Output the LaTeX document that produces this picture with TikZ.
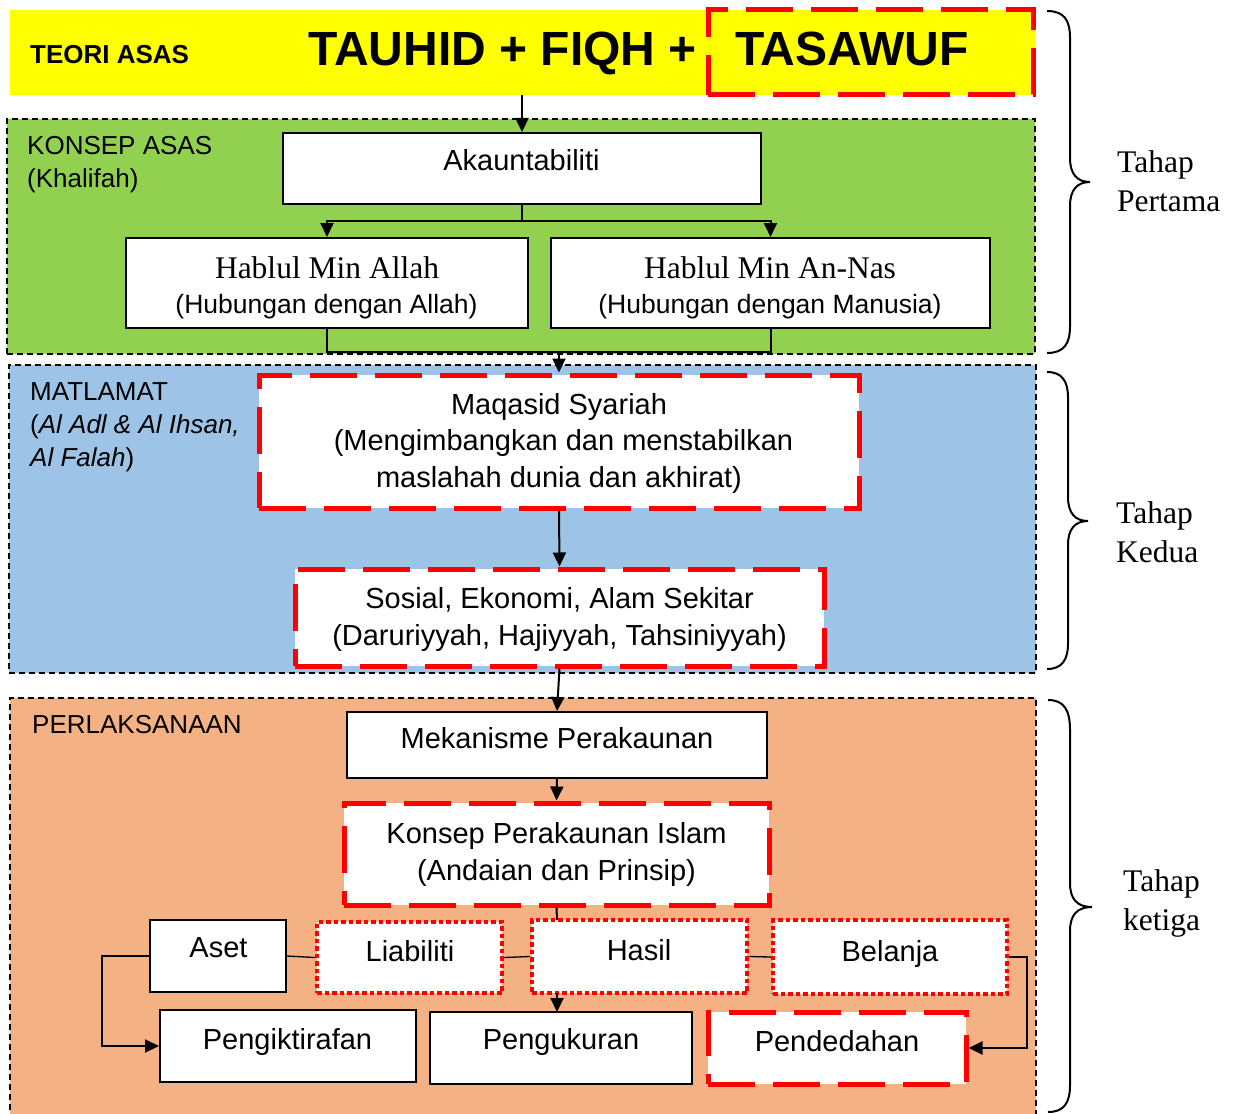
\documentclass[tikz,border=0pt]{standalone}
\usepackage{fontspec}
\setmainfont{Liberation Serif}
\setsansfont{Liberation Sans}
\newfontfamily\arialf{Liberation Sans}
\newfontfamily\tnrf{Liberation Serif}
\usetikzlibrary{arrows.meta}
\definecolor{ygold}{HTML}{FFFF00}
\definecolor{ggreen}{HTML}{92D050}
\definecolor{bblue}{HTML}{9DC3E6}
\definecolor{oorange}{HTML}{F4B183}
\definecolor{rred}{HTML}{FF0000}
\tikzset{
  lbl/.style={font=\arialf\fontsize{26}{31}\selectfont, inner sep=0pt},
  txt/.style={font=\arialf\fontsize{29}{35}\selectfont, inner sep=0pt},
  sub/.style={font=\arialf\fontsize{26.5}{31}\selectfont, inner sep=0pt},
  serif/.style={font=\tnrf\fontsize{31.5}{37}\selectfont, inner sep=0pt},
  container/.style={draw=black, line width=1.5pt, dash pattern=on 6pt off 4pt, inner sep=0pt},
  wbox/.style={draw=black, fill=white, line width=2pt, inner sep=0pt},
  rdash/.style={draw=rred, fill=white, line width=5pt, dash pattern=on 47pt off 18pt, inner sep=0pt},
  rdot/.style={draw=rred, fill=white, line width=4.5pt, dash pattern=on 4.5pt off 3pt, inner sep=0pt},
  conn/.style={line width=2pt, draw=black},
  thin/.style={line width=1.3pt, draw=black},
  arr/.style={conn, -{Triangle[length=14pt,width=13pt]}},
  bracepath/.style={line width=2pt, draw=black},
}
\begin{document}
\begin{tikzpicture}[x=1pt,y=-1pt]
\useasboundingbox (0,0) rectangle (1233,1113);
\fill[white] (0,0) rectangle (1233,1113);

% ---------- Teori Asas ----------
\node[fill=ygold, minimum width=1025pt, minimum height=85pt, inner sep=0pt] (teori) at (522.5,52.5) {};
\node[draw=rred, line width=5pt, dash pattern=on 47pt off 18pt, minimum width=325pt, minimum height=85pt, inner sep=0pt] (taswf) at (870.5,52.5) {};
\node[anchor=base west, font=\arialf\bfseries\fontsize{26}{31}\selectfont, inner sep=0pt] (tteori) at (30,64) {TEORI ASAS};
\node[anchor=base, font=\arialf\bfseries\fontsize{48}{56}\selectfont, inner sep=0pt] (ttfq) at (502.5,66) {TAUHID + FIQH +};
\node[anchor=base, font=\arialf\bfseries\fontsize{48}{56}\selectfont, inner sep=0pt] (ttas) at (852,66) {TASAWUF};

% ---------- Konsep Asas ----------
\node[container, fill=ggreen, minimum width=1028pt, minimum height=235pt] (kons) at (521,236.5) {};
\node[lbl, anchor=base west] (tkons1) at (27,154) {KONSEP ASAS};
\node[lbl, anchor=base west] (tkons2) at (27,187) {(Khalifah)};
\node[wbox, minimum width=478pt, minimum height=71pt] (akun) at (522,168.5) {};
\node[txt, anchor=base] (takun) at (521.5,170) {Akauntabiliti};
\node[wbox, minimum width=402pt, minimum height=90pt] (hma) at (327,283) {};
\node[wbox, minimum width=439pt, minimum height=90pt] (hmn) at (770.5,283) {};
\node[serif, anchor=base] (thma1) at (327,278) {Hablul Min Allah};
\node[sub, anchor=base] (thma2) at (326.5,313) {(Hubungan dengan Allah)};
\node[serif, anchor=base] (thmn1) at (770,278) {Hablul Min An-Nas};
\node[sub, anchor=base] (thmn2) at (770,313) {(Hubungan dengan Manusia)};

% ---------- Matlamat ----------
\node[container, fill=bblue, minimum width=1027pt, minimum height=308pt] (matl) at (522.5,519) {};
\node[lbl, anchor=base west] (tmat1) at (30,400) {MATLAMAT};
\node[lbl, anchor=base west] (tmat2) at (30,433) {(\textit{Al Adl \& Al Ihsan,}};
\node[lbl, anchor=base west] (tmat3) at (30,466) {\textit{Al Falah})};
\node[rdash, minimum width=600pt, minimum height=133pt] (maq) at (559,441.5) {};
\node[txt, anchor=base] (tmaq1) at (559,414) {Maqasid Syariah};
\node[txt, anchor=base] (tmaq2) at (563.5,450) {(Mengimbangkan dan menstabilkan};
\node[txt, anchor=base] (tmaq3) at (559,487) {maslahah dunia dan akhirat)};
\node[rdash, minimum width=529pt, minimum height=97pt] (sos) at (559.5,617.5) {};
\node[txt, anchor=base] (tsos1) at (559.5,608) {Sosial, Ekonomi, Alam Sekitar};
\node[txt, anchor=base] (tsos2) at (559.5,645) {(Daruriyyah, Hajiyyah, Tahsiniyyah)};

% ---------- Perlaksanaan ----------
\node[container, fill=oorange, minimum width=1026pt, minimum height=422pt] (perl) at (523,909) {};
\node[lbl, anchor=base west] (tperl) at (32,733) {PERLAKSANAAN};
\node[wbox, minimum width=420pt, minimum height=66pt] (mek) at (557,745) {};
\node[txt, anchor=base] (tmek) at (557,748) {Mekanisme Perakaunan};
\node[rdash, minimum width=425pt, minimum height=102pt] (kon) at (556.5,854) {};
\node[txt, anchor=base] (tkon1) at (556.5,843) {Konsep Perakaunan Islam};
\node[txt, anchor=base] (tkon2) at (556.5,880) {(Andaian dan Prinsip)};

\node[wbox, minimum width=136pt, minimum height=72pt] (aset) at (218,956) {};
\node[rdot, minimum width=185pt, minimum height=71pt] (liab) at (409.5,957.5) {};
\node[rdot, minimum width=215pt, minimum height=73pt] (has) at (639.5,956.5) {};
\node[rdot, minimum width=234pt, minimum height=74pt] (bel) at (890,957) {};
\node[txt, anchor=base] (taset) at (218.5,957) {Aset};
\node[txt, anchor=base] (tliab) at (410,961) {Liabiliti};
\node[txt, anchor=base] (thas) at (639,960) {Hasil};
\node[txt, anchor=base] (tbel) at (890,961) {Belanja};

\node[wbox, minimum width=256pt, minimum height=72pt] (ikt) at (288,1046) {};
\node[wbox, minimum width=262pt, minimum height=72pt] (uku) at (561,1048) {};
\node[rdash, minimum width=258pt, minimum height=72pt] (ded) at (837,1048) {};
\node[txt, anchor=base] (tikt) at (287.5,1049) {Pengiktirafan};
\node[txt, anchor=base] (tuku) at (561,1049) {Pengukuran};
\node[txt, anchor=base] (tded) at (837,1051) {Pendedahan};

% ---------- Connectors ----------
\draw[arr] (akun.north |- teori.south) -- (akun.north);
\coordinate (split) at (522,221);
\draw[conn] (akun.south) -- (split);
\draw[arr] (split) -| (hma.north);
\draw[arr] (split) -| (hmn.north);
\coordinate (join) at (559,352);
\draw[conn] (hma.south) |- (join) -| (hmn.south);
\draw[arr] (join) -- (maq.north);
\draw[arr] (maq.south) -- (sos.north);
\draw[arr] (sos.south) -- (mek.north);
\draw[arr] (mek.south) -- (kon.north);
\coordinate (hasTop) at (557,920);
\coordinate (hasBot) at (557,993);
\coordinate (ukuTop) at (557,1012);
\draw[conn] (kon.south) -- (hasTop);
\draw[arr] (hasBot) -- (ukuTop);
\draw[thin] (aset.east) -- (liab.west);
\draw[thin] (liab.east) -- (has.west);
\draw[thin] (has.east) -- (bel.west);
\coordinate (aL) at (102,956);
\draw[arr] (aset.west) -- (aL) |- (ikt.west);
\coordinate (bR) at (1027,957);
\draw[arr] (bel.east) -- (bR) |- (ded.east);

% ---------- Braces ----------
\draw[bracepath] (1047,11) .. controls (1064,11) and (1070,20) .. (1070,38) -- (1070,158) .. controls (1070,174) and (1077,182) .. (1090,182) .. controls (1077,182) and (1070,190) .. (1070,206) -- (1070,326) .. controls (1070,344) and (1064,353) .. (1047,353);
\draw[bracepath] (1047,372) .. controls (1062,372) and (1068,381) .. (1068,398) -- (1068,497) .. controls (1068,513) and (1075,521) .. (1088,521) .. controls (1075,521) and (1068,529) .. (1068,545) -- (1068,643) .. controls (1068,660) and (1062,669) .. (1047,669);
\draw[bracepath] (1048,700) .. controls (1064,700) and (1070,710) .. (1070,730) -- (1070,883) .. controls (1070,899) and (1077,907) .. (1092,907) .. controls (1077,907) and (1070,915) .. (1070,931) -- (1070,1085) .. controls (1070,1103) and (1064,1112) .. (1048,1112);
\node[serif, anchor=base west] (tp1) at (1117,172) {Tahap};
\node[serif, anchor=base west] (tp2) at (1117,211) {Pertama};
\node[serif, anchor=base west] (tk1) at (1116,523) {Tahap};
\node[serif, anchor=base west] (tk2) at (1116,562) {Kedua};
\node[serif, anchor=base west] (tg1) at (1123,891) {Tahap};
\node[serif, anchor=base west] (tg2) at (1123,930) {ketiga};
\end{tikzpicture}
\end{document}
